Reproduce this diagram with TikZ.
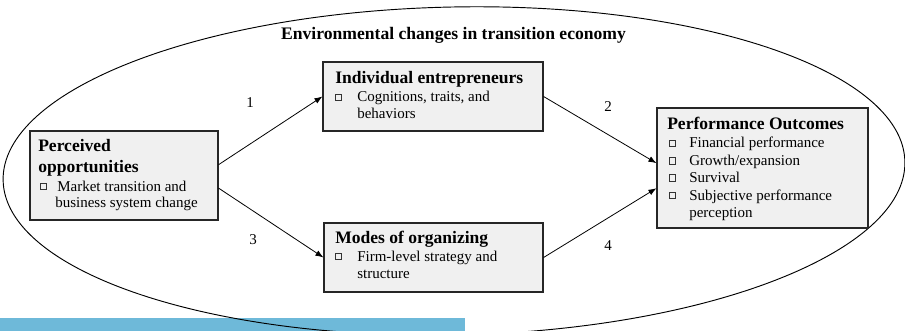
\documentclass[tikz,border=0pt]{standalone}
\usepackage{fontspec}
\setmainfont{Liberation Serif}
\usetikzlibrary{fit,calc,arrows.meta}
\definecolor{boxgray}{HTML}{F0F0F0}
\definecolor{barblue}{HTML}{6EB9D9}
\begin{document}
\begin{tikzpicture}[x=0.75pt,y=-0.75pt,
 box/.style={draw=black!85, line width=0.85pt, fill=boxgray, inner sep=0},
 hd/.style={font=\fontsize{13.15}{14}\selectfont\bfseries, anchor=base west, inner sep=0},
 tx/.style={font=\fontsize{11.25}{13}\selectfont, anchor=base west, inner sep=0},
 bul/.style={draw=black!80, line width=0.5pt, minimum size=4.8pt, inner sep=0},
 arr/.style={-{Latex[length=6pt,width=4.5pt]}, line width=0.6pt},
 num/.style={font=\fontsize{11.25}{13}\selectfont, inner sep=0}]
\useasboundingbox (0,0) rectangle (905,331);
\fill[barblue] (0,318) rectangle (465,331);
\draw[line width=0.7pt, rotate around={1.2:(454,171)}] (454,171) ellipse [x radius=451, y radius=164];
\node[font=\fontsize{13.2}{14}\selectfont\bfseries, anchor=base, inner sep=0] (title) at (453.5,39.5) {Environmental changes in transition economy};
% boxes
\node[box, fit={(30,131) (218,220)}] (perc) {};
\node[box, fit={(323,62) (543,131)}] (ind) {};
\node[box, fit={(324,223) (543,292)}] (mod) {};
\node[box, fit={(657,108) (868,228)}] (perf) {};
% perceived
\node[hd] (p1) at (38,152) {Perceived};
\node[hd] (p2) at (38,173) {opportunities};
\node[bul] (pb) at (43.5,186.5) {};
\node[tx] (p3) at (57,191) {Market transition and};
\node[tx] (p4) at (55,208) {business system change};
% individual
\node[hd] (i1) at (335,84) {Individual entrepreneurs};
\node[bul] (ib) at (338.5,97.5) {};
\node[tx] (i2) at (357,102) {Cognitions, traits, and};
\node[tx] (i3) at (357,119) {behaviors};
% modes
\node[hd] (m1) at (335,243) {Modes of organizing};
\node[bul] (mb) at (338.5,256.5) {};
\node[tx] (m2) at (357,261) {Firm-level strategy and};
\node[tx] (m3) at (357,278) {structure};
% performance
\node[hd] (f0) at (667,130) {Performance Outcomes};
\node[bul] (fb1) at (672.5,143.5) {};
\node[bul] (fb2) at (672.5,161) {};
\node[bul] (fb3) at (672.5,178) {};
\node[bul] (fb4) at (672.5,195.5) {};
\node[tx] (f1) at (689,148) {Financial performance};
\node[tx] (f2) at (689,166) {Growth/expansion};
\node[tx] (f3) at (689,183) {Survival};
\node[tx] (f4) at (689,200) {Subjective performance};
\node[tx] (f5) at (689,217) {perception};
% arrows
\draw[arr] ($(perc.north east)!0.38!(perc.south east)$) -- (ind.west);
\draw[arr] ($(perc.north east)!0.64!(perc.south east)$) -- (mod.west);
\draw[arr] (ind.east) -- ($(perf.north west)!0.46!(perf.south west)$);
\draw[arr] (mod.east) -- ($(perf.north west)!0.667!(perf.south west)$);
% numbers
\node[num] (n1) at (250,103) {1};
\node[num] (n2) at (608,107) {2};
\node[num] (n3) at (253,240) {3};
\node[num] (n4) at (608,246) {4};
\end{tikzpicture}
\end{document}
